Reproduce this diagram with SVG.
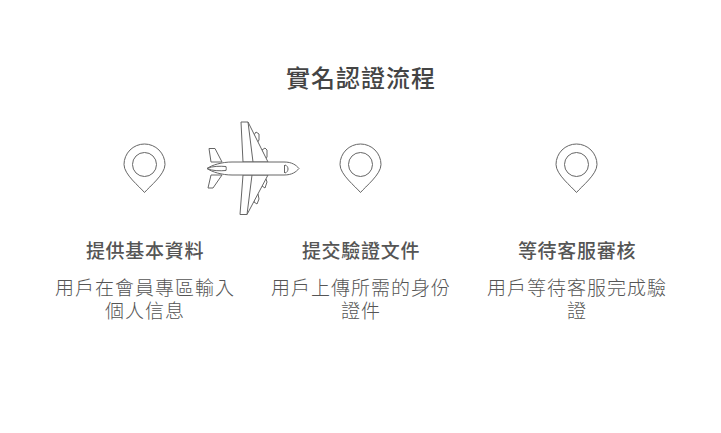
<svg xmlns="http://www.w3.org/2000/svg" width="721" height="433" viewBox="0 0 721 433">
<style>
text{font-family:"Noto Sans CJK TC","Noto Sans CJK SC",sans-serif;text-anchor:middle}
.title{font-size:24px;font-weight:500;fill:#444;letter-spacing:1px}
.head{font-size:19px;font-weight:500;fill:#555;letter-spacing:.7px}
.desc{font-size:19px;font-weight:300;fill:#555;letter-spacing:1px}
.ln{fill:#fff;stroke:#666;stroke-width:1}
</style>
<defs>
<g id="pin"><path class="ln" d="M0 28C-5 22-20.500 10-20.500 0A20.500 20.500 0 0 1 20.500 0C20.500 10 5 22 0 28Z"/><circle class="ln" r="12"/></g>
</defs>
<rect width="721" height="433" fill="#fff"/>
<text class="title" x="361" y="87">實名認證流程</text>
<g id="step1">
<use href="#pin" x="144.500" y="164.500"/>
<text class="head" x="145" y="258">提供基本資料</text>
<text class="desc" x="145" y="295">用戶在會員專區輸入</text>
<text class="desc" x="145" y="318">個人信息</text>
</g>
<g id="plane">
<path class="ln" d="M254 135L256 132L259 134L259 140L257 143ZM262 150L265 148L267 150L267 157L265 160ZM262 186L265 188L267 182L266 179L263 178ZM254 202L257 204L259 199L258 194L255 193Z"/>
<path class="ln" d="M241 122L248 122L268 162L243 162ZM243 175L268 175L247 214.500L240 214.500Z"/>
<path fill="none" stroke="#666" d="M248 122L253 162M247 214.500L252 175"/>
<path class="ln" d="M209 148.500L215 148.500L222 162L211 162ZM211 175L222 175L213 188L208 188Z"/>
<path class="ln" d="M207 168.500C212 165 222 162 232 162L284 162C292 162 296 165 299 168.500C296 172 292 175 284 175L232 175C222 175 212 172 207 168.500Z"/>
<path class="ln" d="M207 168.500C212 166 220 166 226 166.500Q226.500 168.500 226 170.500C220 171 212 171 207 168.500Z"/>
<path fill="none" stroke="#666" d="M284.500 165L284.500 173M285 165C289 166 289 172 285 173"/>
</g>
<g id="step2">
<use href="#pin" x="360.500" y="164.500"/>
<text class="head" x="361" y="258">提交驗證文件</text>
<text class="desc" x="361" y="295">用戶上傳所需的身份</text>
<text class="desc" x="361" y="318">證件</text>
</g>
<g id="step3">
<use href="#pin" x="576.500" y="164.500"/>
<text class="head" x="577" y="258">等待客服審核</text>
<text class="desc" x="577" y="295">用戶等待客服完成驗</text>
<text class="desc" x="577" y="318">證</text>
</g>
<g id="connectors"></g>
</svg>
